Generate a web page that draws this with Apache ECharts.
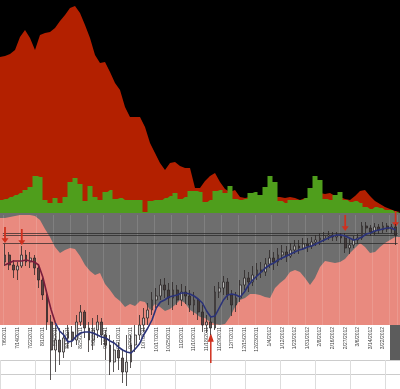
<!DOCTYPE html>
<html>
<head>
<meta charset="utf-8">
<script src="https://cdn.jsdelivr.net/npm/echarts@6/dist/echarts.min.js"></script>
<style>
html, body { margin: 0; padding: 0; background: #fff; }
#chart { width: 400px; height: 389px; }
</style>
</head>
<body>
<div id="chart"></div>
<script>
// upper panel (black): red and green areas, one point every 5px of width
var topRed = [
  156,157,159,163,176,183,175,163,178,180,
  181,185,192,198,205,207,200,188,175,158,
  150,151,141,130,123,106,96,96,96,86,
  70,60,50,43,50,51,47,45,45,25,
  25,32,37,40,31,24,21,23,16,15,
  16,15,16,15,13,16,16,15,16,15,
  13,15,14,18,20,19,20,17,16,14,
  13,17,22,23,17,12,9,6,4,2,
  1
];
var topGreen = [
  13,14,16,18,20,23,26,37,36,13,
  10,15,10,16,31,35,29,12,27,16,
  13,21,23,14,15,13,13,13,13,1,
  12,13,13,15,17,20,14,16,22,22,
  21,11,13,22,23,20,27,14,13,14,
  20,21,18,26,37,31,12,10,13,13,
  13,15,25,37,33,14,13,18,21,13,
  11,12,10,6,4,6,5,3,3,1,
  0
];
// lower panel: pink band behind the price
var pinkBand = [
  107,107,108,109,110,110,110,109,105,96,
  88,78,72,75,77,76,69,60,54,50,
  52,41,35,28,24,18,21,19,24,23,
  15,21,18,14,16,20,25,22,15,12,
  8,7,3,1,0,1,8,18,25,27,
  31,31,30,28,27,37,42,46,53,55,
  53,47,40,47,58,64,63,62,63,66,
  72,77,82,78,72,73,78,82,85,88,
  88
];
var dateLabels = [
  "7/6/2011","7/14/2011","7/22/2011","8/1/2011","8/9/2011","8/17/2011",
  "8/25/2011","9/2/2011","9/13/2011","9/21/2011","9/29/2011","10/7/2011",
  "10/17/2011","10/25/2011","11/2/2011","11/10/2011","11/18/2011","11/29/2011",
  "12/7/2011","12/15/2011","12/23/2011","1/4/2012","1/12/2012","1/23/2012",
  "1/31/2012","2/8/2012","2/16/2012","2/27/2012","3/6/2012","3/14/2012","3/22/2012"
];
// [open, close, low, high]
var candles = [
  [1326,1340,1318,1362],[1340,1320,1310,1346],[1320,1310,1294,1330],[1310,1318,1290,1326],
  [1318,1340,1314,1358],[1340,1326,1318,1350],[1326,1334,1314,1346],[1334,1314,1300,1340],
  [1314,1290,1274,1320],[1290,1260,1250,1294],[1260,1206,1190,1270],[1206,1150,1090,1220],
  [1150,1170,1106,1200],[1170,1146,1120,1194],[1146,1174,1134,1190],[1174,1186,1154,1200],
  [1186,1170,1156,1198],[1170,1206,1160,1220],[1206,1226,1198,1240],[1226,1194,1174,1230],
  [1194,1170,1146,1206],[1170,1190,1150,1214],[1190,1206,1174,1220],[1206,1180,1160,1214],
  [1180,1160,1130,1190],[1160,1126,1100,1180],[1126,1150,1106,1170],[1150,1134,1110,1166],
  [1134,1106,1084,1150],[1106,1126,1078,1180],[1126,1160,1114,1180],[1160,1180,1146,1200],
  [1180,1200,1170,1220],[1200,1214,1186,1234],[1214,1230,1200,1244],[1230,1250,1220,1266],
  [1250,1258,1234,1274],[1258,1280,1250,1292],[1280,1270,1254,1294],[1270,1254,1240,1284],
  [1254,1270,1230,1286],[1270,1250,1240,1280],[1250,1266,1238,1282],[1266,1258,1242,1278],
  [1258,1240,1226,1270],[1240,1250,1220,1266],[1250,1226,1210,1254],[1226,1200,1186,1240],
  [1200,1206,1184,1220],[1206,1194,1180,1218],[1194,1266,1190,1278],[1266,1274,1254,1286],
  [1274,1286,1260,1298],[1286,1260,1250,1294],[1260,1240,1218,1270],[1240,1254,1226,1266],
  [1254,1280,1246,1290],[1280,1294,1270,1310],[1294,1286,1266,1306],[1286,1300,1278,1318],
  [1300,1310,1290,1324],[1310,1306,1294,1326],[1306,1322,1298,1334],[1322,1334,1314,1350],
  [1334,1326,1310,1346],[1326,1340,1318,1354],[1340,1346,1330,1360],[1346,1338,1326,1358],
  [1338,1350,1334,1364],[1350,1358,1342,1370],[1358,1354,1342,1370],[1354,1362,1350,1374],
  [1362,1358,1346,1374],[1358,1366,1352,1376],[1366,1370,1358,1380],[1370,1374,1360,1384],
  [1374,1378,1366,1386],[1378,1380,1370,1388],[1380,1376,1368,1386],[1376,1378,1368,1386],
  [1378,1374,1364,1384],[1374,1354,1344,1384],[1354,1360,1342,1374],[1360,1370,1354,1378],
  [1370,1374,1362,1382],[1374,1398,1370,1406],[1398,1394,1384,1406],[1394,1386,1378,1400],
  [1386,1396,1380,1404],[1396,1390,1382,1402],[1390,1398,1384,1406],[1398,1392,1386,1404],
  [1392,1396,1384,1402],[1396,1380,1360,1402]
];
var ma = [
  1320,1324,1328,1328,1328,1330,1328,1326,1320,1296,
  1262,1230,1204,1188,1180,1166,1168,1178,1184,1186,
  1186,1184,1180,1176,1174,1168,1164,1156,1150,1146,
  1144,1152,1162,1180,1194,1210,1234,1246,1250,1256,
  1258,1260,1264,1264,1262,1258,1252,1244,1228,1216,
  1218,1234,1250,1260,1262,1260,1256,1266,1280,1290,
  1298,1306,1314,1320,1324,1330,1334,1338,1342,1346,
  1350,1352,1356,1358,1362,1366,1370,1374,1378,1380,
  1380,1378,1374,1370,1372,1376,1382,1384,1388,1390,
  1392,1394,1394,1390
];
// arrows: [candle index, price at arrow centre]
var downArrows = [[0, 1380], [4, 1376], [81, 1404], [93, 1412]];
var upArrows = [[49, 1154]];
var levelLines = [1384, 1380, 1364];

var chart = echarts.init(document.getElementById("chart"));
var topX = topRed.map(function (v, i) { return i; });
var candleX = candles.map(function (v, i) { return i; });
var maroonMA = ma.map(function (v, i) { return i <= 12 ? v : null; });
var navyMA = ma.map(function (v, i) { return i >= 12 ? v : null; });

var arrowPath = "path://M4,0 L8,7 L5,7 L5,24 L3,24 L3,7 L0,7 Z";
var arrowPoints = downArrows.map(function (a) {
  return { coord: a, symbolRotate: 180, symbolSize: [7, 16] };
}).concat(upArrows.map(function (a) {
  return { coord: a, symbolSize: [6, 30] };
}));

chart.setOption({
  animation: false,
  backgroundColor: "#ffffff",
  grid: [
    { left: 0, right: 0, top: 0, height: 213, show: true, backgroundColor: "#000", borderWidth: 0 },
    { left: 0, right: 0, top: 213, height: 112, show: true, backgroundColor: "#6e6e6e", borderWidth: 0 },
    { left: 0, right: 0, top: 360, bottom: 0, show: true, backgroundColor: "#fff", borderWidth: 0 },
    // date labels + vertical lines of the grey panel
    { left: 2.9, right: 2.3, top: 215, height: 110 },
    // price: candles, average, arrows (runs down into the white area)
    { left: 2.9, right: 2.3, top: 215, height: 174 }
  ],
  xAxis: [
    { gridIndex: 0, type: "category", data: topX, boundaryGap: false, show: false },
    { gridIndex: 1, type: "category", data: topX, boundaryGap: false, show: false },
    {
      gridIndex: 2, type: "value", min: 0, max: 400, interval: 35,
      axisLine: { show: false }, axisTick: { show: false }, axisLabel: { show: false },
      splitLine: { lineStyle: { color: "#dddddd" } }
    },
    {
      gridIndex: 3, type: "category", data: candleX, boundaryGap: true, z: 3,
      axisLine: { show: false }, axisTick: { show: false },
      axisLabel: {
        interval: 2, rotate: 90, margin: 2, fontSize: 5, fontFamily: "Liberation Sans", color: "#444",
        formatter: function (v, i) { return dateLabels[i / 3] || ""; }
      },
      splitLine: { show: true, interval: 3, lineStyle: { color: "rgba(255,255,255,0.13)" } }
    },
    { gridIndex: 4, type: "category", data: candleX, boundaryGap: true, show: false }
  ],
  yAxis: [
    { gridIndex: 0, type: "value", min: 0, max: 213, show: false },
    { gridIndex: 1, type: "value", min: 0, max: 112, show: false },
    {
      gridIndex: 2, type: "value", min: 0, max: 30, interval: 15,
      axisLine: { show: false }, axisTick: { show: false }, axisLabel: { show: false },
      splitLine: { lineStyle: { color: "#cccccc" } }
    },
    { gridIndex: 3, type: "value", min: 0, max: 1, show: false },
    { gridIndex: 4, type: "value", min: 1072, max: 1420, show: false }
  ],
  graphic: [
    { type: "rect", left: 390, top: 325, z: 1, shape: { width: 10, height: 35 }, style: { fill: "#5c5c5c" } }
  ],
  series: [
    {
      type: "line", xAxisIndex: 0, yAxisIndex: 0, data: topRed, symbol: "none", z: 1,
      lineStyle: { width: 0 }, areaStyle: { color: "#b32000", opacity: 1 }
    },
    {
      type: "line", xAxisIndex: 0, yAxisIndex: 0, data: topGreen, symbol: "none", step: "middle", z: 1,
      lineStyle: { width: 0 }, areaStyle: { color: "#4f9e1c", opacity: 1 }
    },
    {
      type: "line", xAxisIndex: 1, yAxisIndex: 1, data: pinkBand, symbol: "none", z: 1,
      lineStyle: { width: 0 }, areaStyle: { color: "#e98a7f", opacity: 1 }
    },
    {
      type: "candlestick", xAxisIndex: 4, yAxisIndex: 4, data: candles, barWidth: 2.4, z: 5,
      itemStyle: {
        color: "#cfcfcf", color0: "#3a3030", borderColor: "#2b2626", borderColor0: "#2b2626",
        borderWidth: 1, opacity: 0.78
      },
      markLine: {
        silent: true, symbol: ["none", "none"], label: { show: false },
        lineStyle: { color: "rgba(35,35,35,0.7)", type: "solid", width: 1 },
        data: levelLines.map(function (v) { return { yAxis: v }; })
      },
      markPoint: {
        symbol: arrowPath, label: { show: false }, itemStyle: { color: "#d0301e" },
        data: arrowPoints
      }
    },
    {
      type: "line", xAxisIndex: 4, yAxisIndex: 4, data: maroonMA, symbol: "none", z: 6,
      lineStyle: { color: "#7a1c3c", width: 1.6 }
    },
    {
      type: "line", xAxisIndex: 4, yAxisIndex: 4, data: navyMA, symbol: "none", z: 6,
      lineStyle: { color: "#2a3278", width: 1.6 }
    }
  ]
});
</script>
</body>
</html>
